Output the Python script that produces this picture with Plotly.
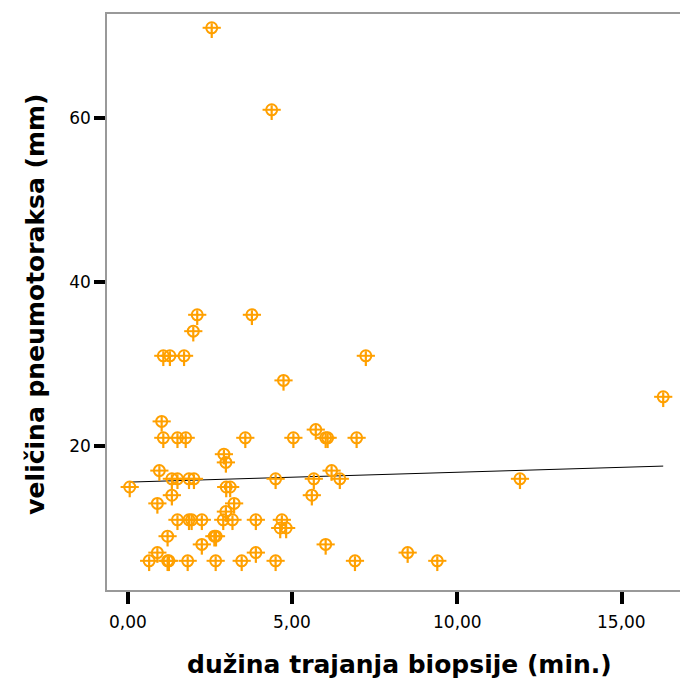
import plotly.graph_objects as go

# duration of biopsy (min.) and pneumothorax size (mm)
duration = [2.55, 4.37, 2.11, 3.77, 1.99, 1.08, 1.28, 1.71, 7.23, 4.73,
            16.26, 1.03, 5.71, 1.08, 1.51, 1.76, 3.57, 5.03, 6.01, 6.07,
            6.95, 2.92, 2.98, 0.96, 6.19, 1.34, 1.51, 1.86, 2.01, 4.49,
            5.65, 6.44, 11.91, 0.06, 2.99, 3.11, 1.34, 5.59, 0.90, 3.23,
            2.98, 1.51, 1.86, 1.94, 2.25, 2.90, 3.18, 3.89, 4.68, 4.63,
            4.81, 1.21, 2.63, 2.68, 2.25, 6.01, 0.90, 3.89, 8.50, 0.65,
            1.21, 1.25, 1.82, 2.67, 3.46, 4.49, 6.90, 9.40]
size_mm = [71, 61, 36, 36, 34, 31, 31, 31, 31, 28,
           26, 23, 22, 21, 21, 21, 21, 21, 21, 21,
           21, 19, 18, 17, 17, 16, 16, 16, 16, 16,
           16, 16, 16, 15, 15, 15, 14, 14, 13, 13,
           12, 11, 11, 11, 11, 11, 11, 11, 11, 10,
           10, 9, 9, 9, 8, 8, 7, 7, 7, 6,
           6, 6, 6, 6, 6, 6, 6, 6]

# fitted line
fit_x = [0.06, 16.26]
fit_y = [15.6, 17.55]

x_ticks = [0, 5, 10, 15]
x_ticklabels = ["0,00", "5,00", "10,00", "15,00"]
y_ticks = [20, 40, 60]
y_ticklabels = ["20", "40", "60"]

orange = "#FFA000"

fig = go.Figure()
fig.add_trace(go.Scatter(
    x=fit_x, y=fit_y, mode="lines",
    line=dict(color="black", width=1), hoverinfo="skip", showlegend=False))
fig.add_trace(go.Scatter(
    x=duration, y=size_mm, mode="markers",
    marker=dict(symbol="circle-open", size=11, color=orange,
                line=dict(color=orange, width=2)),
    error_y=dict(type="constant", symmetric=False, value=0.55, valueminus=1.25,
                 width=0, thickness=2.2, color=orange),
    showlegend=False))
fig.add_trace(go.Scatter(
    x=duration, y=size_mm, mode="markers",
    marker=dict(symbol="line-ew-open", size=13, color=orange,
                line=dict(color=orange, width=2)),
    hoverinfo="skip", showlegend=False))

tick_annotations = [
    dict(text=lbl, xref="x", yref="paper", x=val, y=-0.0556,
         xanchor="center", yanchor="middle", showarrow=False,
         font=dict(family="DejaVu Sans", size=17, color="black"))
    for val, lbl in zip(x_ticks, x_ticklabels)
]

fig.update_layout(
    width=680, height=682,
    margin=dict(l=107, r=0, t=14, b=92, autoexpand=False),
    paper_bgcolor="white", plot_bgcolor="white",
    font=dict(family="DejaVu Sans", size=17, color="black"),
    xaxis=dict(range=[-0.63, 16.77], showgrid=False, zeroline=False,
               showline=True, mirror=True, linecolor="#999999", linewidth=1.5,
               ticks="outside", ticklen=12, tickwidth=4, tickcolor="black",
               tickvals=x_ticks, ticktext=x_ticklabels, showticklabels=False,
               automargin=False),
    yaxis=dict(range=[2.44, 72.68], showgrid=False, zeroline=False,
               showline=True, mirror=False, linecolor="#999999", linewidth=1.5,
               ticks="outside", ticklen=11, tickwidth=4, tickcolor="black",
               tickvals=y_ticks, ticktext=y_ticklabels, automargin=False),
    annotations=tick_annotations + [
        dict(text="<b>dužina trajanja biopsije (min.)</b>", xref="paper", yref="paper",
             x=0.511, y=-0.129, xanchor="center", yanchor="middle", showarrow=False,
             font=dict(family="DejaVu Sans", size=25, color="black")),
        dict(text="<b>veličina pneumotoraksa (mm)</b>", xref="paper", yref="paper",
             x=-0.124, y=0.497, xanchor="center", yanchor="middle", showarrow=False,
             textangle=-90,
             font=dict(family="DejaVu Sans", size=25, color="black")),
    ],
)

fig.write_html("out.html", config={"displayModeBar": False},
               post_script="document.body.style.margin='0';")
